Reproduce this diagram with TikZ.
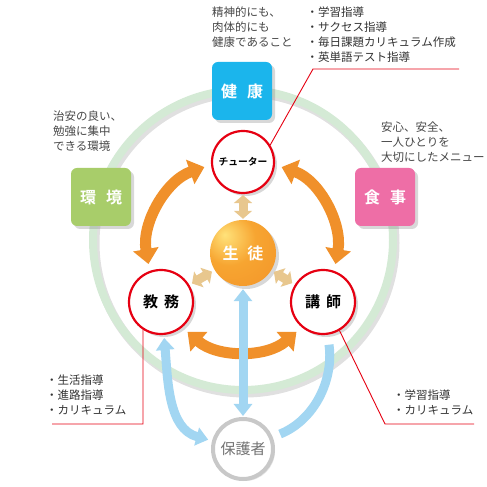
\documentclass[tikz,border=0pt]{standalone}
\usepackage{fontspec}
\setmainfont{Noto Sans CJK JP}[BoldFont={Noto Sans CJK JP Bold}]
\usetikzlibrary{arrows.meta, shadows, positioning}

\definecolor{kenkoublue}{HTML}{1BB5EC}
\definecolor{kankyougreen}{HTML}{A8CD6A}
\definecolor{shokujipink}{HTML}{EE6EA6}
\definecolor{ringgreen}{HTML}{D4EAD5}
\definecolor{calloutred}{HTML}{E60012}
\definecolor{unitorange}{HTML}{F0902A}
\definecolor{parentblue}{HTML}{A2D6F2}
\definecolor{linktan}{HTML}{E8C78E}
\definecolor{notegray}{HTML}{474747}
\definecolor{hogoshagray}{HTML}{C8C8C8}
\definecolor{ballhi}{HTML}{FFE27A}
\definecolor{ballmid}{HTML}{F7A531}
\definecolor{ballout}{HTML}{EC7C1E}

\pgfdeclareradialshading{seitoball}{\pgfpoint{-14bp}{14bp}}{%
  color(0bp)=(ballhi); color(20bp)=(ballmid);
  color(45bp)=(ballmid!60!ballout); color(64bp)=(ballout);
  color(80bp)=(ballout)}

\begin{document}
\begin{tikzpicture}[x=1pt, y=1pt,
        box/.style={rectangle, rounded corners=6pt, minimum width=60pt, minimum height=58pt, text=white,
                    font=\fontsize{16}{16}\selectfont\bfseries,
                    drop shadow={shadow xshift=3pt, shadow yshift=-3pt, opacity=0.3}},
        role/.style={circle, draw=calloutred, line width=2.2pt, fill=white, minimum size=62pt, inner sep=0pt,
                     font=\fontsize{15}{15}\selectfont\bfseries,
                     drop shadow={shadow xshift=3pt, shadow yshift=-3pt, opacity=0.3}},
        note/.style={anchor=west, align=left, inner sep=0pt, text=notegray, font=\fontsize{11.5}{15}\selectfont},
        callout/.style={draw=calloutred, line width=0.9pt},
        unitarrow/.style={draw=unitorange, line width=11pt, shorten <=7pt, shorten >=7pt,
                          {Triangle[length=15pt,width=25pt]}-{Triangle[length=15pt,width=25pt]}},
        linkarrow/.style={draw=linktan, line width=9pt,
                          {Triangle[length=8pt,width=18pt]}-{Triangle[length=8pt,width=18pt]}},
        parentarrow/.style={draw=parentblue, line width=9pt,
                            {Triangle[length=12pt,width=18pt]}-{Triangle[length=12pt,width=18pt]}},
        parentline/.style={draw=parentblue, line width=9pt}
    ]
        \fill[white] (0,0) rectangle (487,487);
        \useasboundingbox (0,0) rectangle (487,487);

        % --- Outer ring ---
        \coordinate (ringc) at (243,247);
        \draw[draw=ringgreen, line width=8pt,
              preaction={draw=black, opacity=0.12, line width=9pt, transform canvas={shift={(2pt,-3pt)}}}]
            (ringc) circle[radius=150];

        % --- Environment boxes ---
        \node[box, fill=kenkoublue] (kenkou) at (242,396) {健\hspace{10pt}康};
        \node[box, fill=kankyougreen] (kankyou) at (101,290) {環\hspace{10pt}境};
        \node[box, fill=shokujipink] (shokuji) at (385,290) {食\hspace{10pt}事};

        % --- Staff circles ---
        \node[role, font=\fontsize{9.8}{10}\selectfont\bfseries] (tutor) at (243,325) {チューター};
        \node[role, minimum size=64pt] (kyomu) at (161,185) {教\hspace{6pt}務};
        \node[role, minimum size=64pt] (koushi) at (323,185) {講\hspace{6pt}師};

        % --- Student ---
        \node[circle, minimum size=66pt, inner sep=0pt, shading=seitoball, text=white,
              font=\fontsize{16}{16}\selectfont\bfseries,
              drop shadow={shadow xshift=3pt, shadow yshift=-3pt, opacity=0.3}] (seito) at (243,234) {生\hspace{9pt}徒};

        % --- Parents ---
        \node[circle, draw=hogoshagray, line width=4pt, fill=white, minimum size=60pt, inner sep=0pt,
              text=black!55, font=\fontsize{15}{15}\selectfont,
              drop shadow={shadow xshift=2pt, shadow yshift=-2pt, opacity=0.2}] (hogosha) at (243,38) {保護者};

        % ================= ARROWS =================

        % Orange arrows between staff (arcs round the student)
        \draw[unitarrow] (kyomu.110) to[out=100, in=199] (tutor.185);
        \draw[unitarrow] (tutor.-5) to[out=-19, in=80] (koushi.70);
        \draw[unitarrow] (kyomu.-50) to[out=-41, in=221] (koushi.230);

        % Small links to the student
        \draw[linkarrow, shorten <=1pt, shorten >=1pt] (seito) -- (tutor);
        \draw[linkarrow, shorten <=3pt, shorten >=3pt] (seito) -- (kyomu);
        \draw[linkarrow, shorten <=3pt, shorten >=3pt] (seito) -- (koushi);

        % Blue links to the parents
        \draw[parentarrow, shorten <=3pt, shorten >=1pt] (seito) -- (hogosha);
        \draw[parentarrow, shorten <=3pt, shorten >=4pt] (kyomu) to[out=-85, in=165] (hogosha);
        \draw[parentline, shorten <=10pt, shorten >=8pt] (koushi) to[out=-82, in=22] (hogosha);

        % ================= NOTES =================
        \node[note] (kenkounote) at (212,460) {精神的にも、\\肉体的にも\\健康であること};
        \node[note, text=black!80] (tutornote) at (306.5,452.5) {・学習指導\\・サクセス指導\\・毎日課題カリキュラム作成\\・英単語テスト指導};
        \node[note] (kankyounote) at (53,356) {治安の良い、\\勉強に集中\\できる環境};
        \node[note] (shokujinote) at (381,345) {安心、安全、\\一人ひとりを\\大切にしたメニュー};
        \node[note, text=black!80] (kyomunote) at (46,92) {・生活指導\\・進路指導\\・カリキュラム};
        \node[note, text=black!80] (koushinote) at (393,85) {・学習指導\\・カリキュラム};

        % --- Callout lines ---
        \coordinate (tutorbend) at (313,418);
        \coordinate (tutorend) at (459,418);
        \coordinate (kyomubend) at (143,63);
        \coordinate (kyomuend) at (52,63);
        \coordinate (koushibend) at (385,63);
        \coordinate (koushiend) at (474,63);
        \draw[callout] (tutor.32) -- (tutorbend) -- (tutorend);
        \draw[callout] (kyomu.237) -- (kyomubend) -- (kyomuend);
        \draw[callout] (koushi.-60) -- (koushibend) -- (koushiend);
\end{tikzpicture}
\end{document}
